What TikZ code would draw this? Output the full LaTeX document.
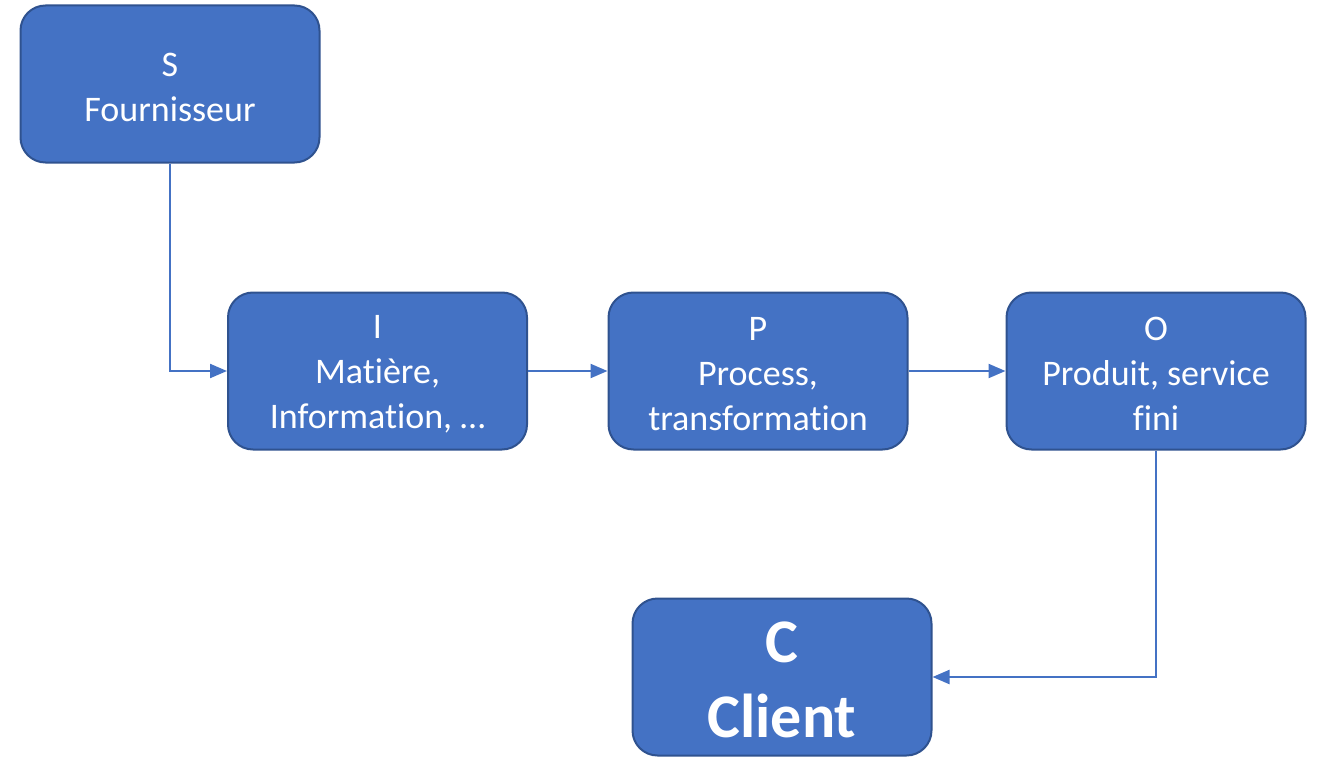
\documentclass[tikz,border=0pt]{standalone}
\usepackage{fontspec}
\setmainfont[Ligatures={NoCommon}]{Carlito}
\usetikzlibrary{arrows.meta}
\definecolor{boxfill}{HTML}{4472C4}
\definecolor{boxline}{HTML}{2F528F}
\definecolor{conn}{HTML}{4472C4}
\begin{document}
\begin{tikzpicture}[x=1pt,y=-1pt,
  blockbox/.style={draw=boxline, line width=2pt, fill=boxfill, rounded corners=25pt,
    minimum width=299pt, minimum height=157pt, text=white, align=center, inner sep=0pt,
    font=\fontsize{36}{45}\selectfont},
  txt/.style={text=white, align=center, inner sep=0pt, font=\fontsize{36}{45}\selectfont},
  bigtxt/.style={txt, font=\bfseries\fontsize{62}{75}\selectfont},
  conn/.style={draw=conn, line width=2.2pt, -{Triangle[length=17pt,width=14pt]}}]
\useasboundingbox (0,0) rectangle (1317,757);
\node[blockbox] (S) at (170,84) {};
\node[blockbox] (I) at (377.5,371) {};
\node[blockbox] (P) at (758,371) {};
\node[blockbox] (O) at (1156,371) {};
\node[blockbox] (C) at (782,677) {};
\node[txt] (St) at (170,87) {S\\Fournisseur};
\node[txt] (It) at (377.5,374) {I\\Matière,\\Information, …};
\node[txt] (Pt) at (758,374) {P\\Process,\\transformation};
\node[txt] (Ot) at (1156,374) {O\\Produit, service\\fini};
\node[bigtxt] (Ct) at (782,680) {C\\Client};
\draw[conn] (S.south) |- (I.west);
\draw[conn] (I.east) -- (P.west);
\draw[conn] (P.east) -- (O.west);
\draw[conn] (O.south) |- (C.east);
\end{tikzpicture}
\end{document}
